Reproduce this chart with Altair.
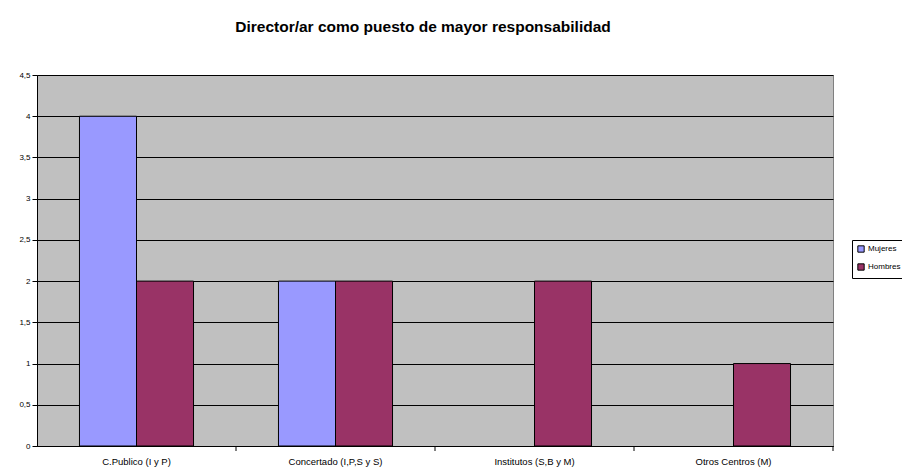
import altair as alt
import pandas as pd

categories = ["C.Publico (I y P)", "Concertado (I,P,S y S)", "Institutos (S,B y M)", "Otros Centros (M)"]
series = ["Mujeres", "Hombres"]
mujeres = [4, 2, 0, 0]
hombres = [2, 2, 2, 1]
colors = ["#9999FF", "#993366"]

rows = []
for c, m, h in zip(categories, mujeres, hombres):
    rows.append({"cat": c, "serie": "Mujeres", "valor": m})
    rows.append({"cat": c, "serie": "Hombres", "valor": h})
df = pd.DataFrame(rows)
df_cat = pd.DataFrame({"cat": categories})

FONT = "Liberation Sans"
W, H = 796, 371

xscale = alt.Scale(domain=categories, paddingInner=0, paddingOuter=0)

bars = alt.Chart(df).transform_filter("datum.valor > 0").mark_bar(stroke="black", strokeWidth=1).encode(
    x=alt.X("cat:N", scale=xscale, title=None,
            axis=alt.Axis(labelAngle=0, ticks=False, labelFont=FONT, labelFontSize=9.5,
                          labelColor="black", labelPadding=10, domainColor="black",
                          domainWidth=1, grid=False)),
    xOffset=alt.XOffset("serie:N", scale=alt.Scale(domain=series, paddingInner=0, paddingOuter=0.745)),
    y=alt.Y("valor:Q", scale=alt.Scale(domain=[0, 4.5], nice=False), title=None,
            axis=alt.Axis(values=[0, 0.5, 1, 1.5, 2, 2.5, 3, 3.5, 4, 4.5],
                          format=".1~f",
                          labelExpr="replace(datum.label, '.', ',')",
                          labelFont=FONT, labelFontSize=8, labelColor="black",
                          tickColor="black", tickSize=5, labelPadding=2,
                          domainColor="black", gridColor="black", gridWidth=1.2,
                          gridOpacity=1)),
    color=alt.Color("serie:N", scale=alt.Scale(domain=series, range=colors), title=None,
                    legend=alt.Legend(orient="none", legendX=815, legendY=165,
                                      strokeColor="black", padding=5, fillColor="white",
                                      symbolType="square", symbolSize=40,
                                      symbolStrokeColor="black", symbolStrokeWidth=1,
                                      labelFont=FONT, labelFontSize=8, labelColor="black",
                                      rowPadding=6, labelOffset=3)),
)

ticks = alt.Chart(df_cat).mark_rule(color="black", strokeWidth=1).encode(
    x=alt.X("cat:N", scale=xscale, bandPosition=1),
    y=alt.value(H),
    y2=alt.value(H + 5),
)

chart = alt.layer(bars, ticks).properties(
    width=W, height=H,
    background="white",
    title=alt.TitleParams("Director/ar como puesto de mayor responsabilidad",
                          font=FONT, fontSize=15.5, fontWeight="bold", color="black",
                          anchor="middle", offset=36, dx=-12),
    autosize=alt.AutoSizeParams(type="none"),
    padding={"left": 29, "top": 67, "right": 69, "bottom": 22},
).configure_view(fill="#C0C0C0", stroke="#808080", strokeWidth=1)

chart.save("out.html", embed_options={"renderer": "svg", "actions": False})
